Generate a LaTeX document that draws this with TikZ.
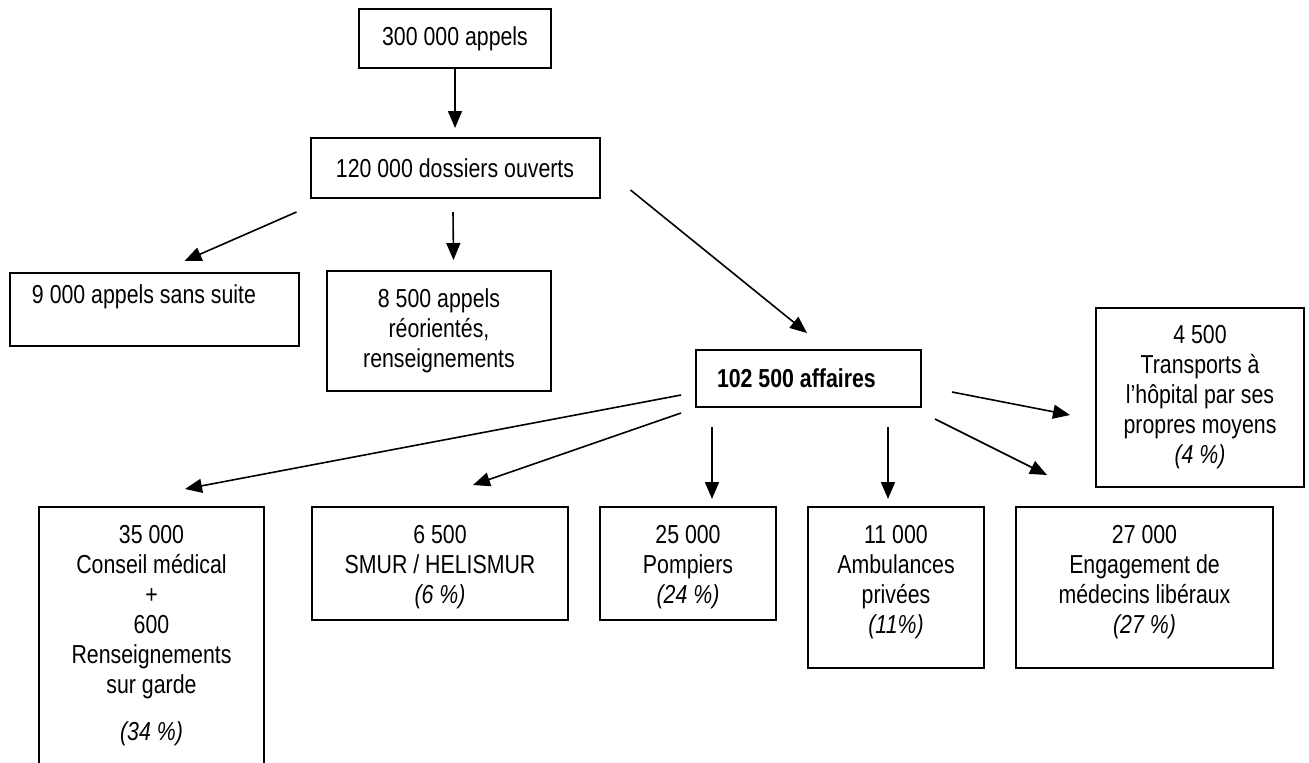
\documentclass[tikz,border=0pt]{standalone}
\usepackage{fontspec}
\setmainfont{Liberation Sans}[FakeStretch=0.82]
\usetikzlibrary{arrows.meta,positioning}

\begin{document}
\begin{tikzpicture}[
    x=0.5pt, y=-0.5pt,
    font=\fontsize{13pt}{15pt}\selectfont,
    >={Triangle[length=8.5pt,width=7pt]},
    box/.style={draw, line width=1pt, align=center, inner sep=0pt, outer sep=0pt},
    cell/.style={box, anchor=north west, inner ysep=0pt},
    flow/.style={->, line width=0.8pt}
]
\useasboundingbox (0,0) rectangle (1309,762);

% Incoming calls
\node[box, minimum width=96pt, minimum height=29.5pt] (calls) at (455,38.5) {300 000 appels};
\node[box, below=35pt of calls, minimum width=144.5pt, minimum height=30pt] (files) {120 000 dossiers ouverts};

% First split
\node[box, align=flush left, text width=122.5pt, inner xsep=11pt, minimum height=36.5pt] (nofollow) at (154.5,309.5) {9 000 appels sans suite\\ \mbox{}};
\node[box, minimum width=112pt, minimum height=60pt] (redirect) at (439,331) {8 500 appels\\réorientés,\\renseignements};
\node[box, font=\fontsize{13pt}{15pt}\selectfont\bfseries, align=flush left, text width=91.5pt, inner xsep=10.5pt, minimum height=28.5pt] (cases) at (808.5,378.5) {102 500 affaires};
\node[box, minimum width=104pt, minimum height=89.5pt] (own) at (1200,397.5) {4 500\\Transports à\\l’hôpital par ses\\propres moyens\\\textit{(4 \%)}};

% Answers given to the cases
\node[cell, minimum width=112.5pt, text height=116.5pt, text depth=60pt] (advice) at (39,507) {35 000\\Conseil médical\\+\\600\\Renseignements\\sur garde\\[8.5pt]\textit{(34 \%)}};
\node[cell, right=24pt of advice.north east, anchor=north west, minimum width=128pt, text height=48pt, text depth=8.5pt] (smur) {6 500\\SMUR / HELISMUR\\\textit{(6 \%)}};
\node[cell, right=16pt of smur.north east, anchor=north west, minimum width=88pt, text height=48pt, text depth=8.5pt] (fire) {25 000\\Pompiers\\\textit{(24 \%)}};
\node[cell, right=16pt of fire.north east, anchor=north west, minimum width=88pt, text height=63pt, text depth=17.5pt] (ambul) {11 000\\Ambulances\\privées\\\textit{(11\%)}};
\node[cell, right=16pt of ambul.north east, anchor=north west, minimum width=128.5pt, text height=63pt, text depth=17.5pt] (doctors) {27 000\\Engagement de\\médecins libéraux\\\textit{(27 \%)}};

% Flows
\draw[flow] (calls) -- ([shift={(0,-10)}]files.north);
\draw[flow] ([shift={(-14,14)}]files.south west) -- ([shift={(30,-12)}]nofollow.north);
\draw[flow] ([shift={(-2,14)}]files.south) -- ([shift={(14.5,-11)}]redirect.north);
\draw[flow] ([shift={(31,-8)}]files.south east) -- ([shift={(-1.5,-17)}]cases.north);

\draw[flow] ([shift={(-15,16.5)}]cases.west) -- ([shift={(33.5,-18)}]advice.north);
\draw[flow] ([shift={(-15,6)}]cases.south west) -- ([shift={(33,-22)}]smur.north);
\draw[flow] ([shift={(16,20)}]cases.south west) -- ([shift={(24,-8)}]fire.north);
\draw[flow] ([shift={(-33,20)}]cases.south east) -- ([shift={(-8,-8)}]ambul.north);
\draw[flow] ([shift={(14,12)}]cases.south east) -- ([shift={(31,-32)}]doctors.north west);
\draw[flow] ([shift={(31,13.5)}]cases.east) -- ([shift={(-26,17.5)}]own.west);

\end{tikzpicture}
\end{document}
